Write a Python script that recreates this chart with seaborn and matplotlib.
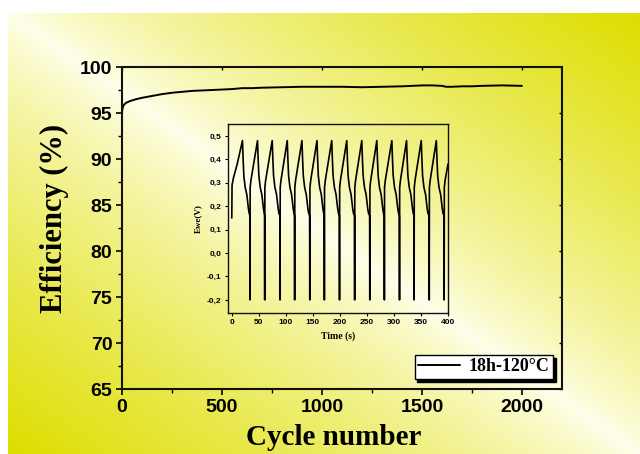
import numpy as np
import pandas as pd
import matplotlib
matplotlib.use("Agg")
import matplotlib.pyplot as plt
import seaborn as sns
from matplotlib.ticker import FuncFormatter, MultipleLocator, NullFormatter

# main curve: coulombic efficiency vs cycle number
cycles = [0, 1, 3, 5, 10, 20, 40, 70, 100, 150, 200, 250, 300, 350, 400, 450,
          500, 550, 600, 650, 700, 800, 900, 1000, 1100, 1200, 1300, 1400,
          1450, 1500, 1550, 1600, 1620, 1650, 1700, 1750, 1800, 1900, 2000]
efficiency = [94.8, 95.3, 95.5, 95.7, 95.9, 96.1, 96.3, 96.5, 96.65, 96.85, 97.05,
              97.2, 97.3, 97.4, 97.45, 97.5, 97.55, 97.6, 97.7, 97.7, 97.75, 97.8,
              97.85, 97.85, 97.85, 97.8, 97.85, 97.9, 97.95, 98.0, 98.0, 97.95,
              97.85, 97.85, 97.9, 97.9, 97.95, 98.0, 97.95]

# inset: Ewe vs time, galvanostatic cycling
peak_times = [19.8, 47.6, 74.8, 102.6, 129.8, 157.6, 184.9, 212.7, 240.5,
              268.3, 296.1, 323.3, 350.5, 378.4]
drop_times = [33.4, 60.6, 89.0, 116.0, 144.0, 171.0, 199.0, 227.0, 255.0,
              282.0, 310.0, 337.0, 365.0, 392.6]
v_peak = 0.48
v_bottom = -0.2
# shape of the discharge branch after each peak (seconds after peak, volts)
fall_dt = [1.2, 2.5, 5.0, 8.0, 11.0, 12.4]
fall_v = [0.40, 0.33, 0.28, 0.25, 0.19, 0.17]
# start of the record and its end
start_t = [0.0, 0.5, 3.0, 10.0]
start_v = [0.15, 0.29, 0.32, 0.38]
end_t = [400.0]
end_v = [0.38]

t_pts = list(start_t)
v_pts = list(start_v)
for i, p in enumerate(peak_times):
    t_pts.append(p)
    v_pts.append(v_peak)
    t_pts += [p + d for d in fall_dt]
    v_pts += fall_v
    d = drop_times[i]
    t_pts += [d, d + 0.3, d + 0.6, d + 2.0]
    v_pts += [0.16, v_bottom, 0.28, 0.31]
t_pts += end_t
v_pts += end_v

eff_df = pd.DataFrame({"cycle": cycles, "eff": efficiency})
volt_df = pd.DataFrame({"t": t_pts, "v": v_pts})

sns.set_style("ticks")
plt.rcParams["font.family"] = ["Liberation Sans", "DejaVu Sans"]
plt.rcParams["text.color"] = "black"
plt.rcParams["xtick.color"] = "black"
plt.rcParams["ytick.color"] = "black"
plt.rcParams["axes.labelcolor"] = "black"
serif = ["Liberation Serif", "DejaVu Serif"]

fig = plt.figure(figsize=(6.4, 4.54), dpi=100)
fig.patch.set_facecolor("white")

# gradient background (yellow corners top-right / bottom-left)
bg = fig.add_axes([8 / 640, 0, 632 / 640, 441 / 454], zorder=0)
H, W = 441, 632
u = np.linspace(0, 1, W)[None, :]
w = np.linspace(0, 1, H)[:, None]
g = np.clip(np.abs(u - w), 0, 1) ** 0.75
pale = np.array([255, 255, 238]) / 255
yel = np.array([222, 222, 0]) / 255
img = pale[None, None, :] * (1 - g[..., None]) + yel[None, None, :] * g[..., None]
bg.imshow(img, aspect="auto", interpolation="bilinear")
bg.axis("off")

ax = fig.add_axes([122 / 640, 1 - 389 / 454, 440 / 640, 322 / 454], zorder=1)
ax.patch.set_alpha(0)
sns.lineplot(data=eff_df, x="cycle", y="eff", ax=ax, color="black", lw=1.4,
             label="18h-120°C")
ax.set_xlim(0, 2200)
ax.set_ylim(65, 100)
ax.xaxis.set_major_locator(MultipleLocator(500))
ax.xaxis.set_minor_locator(MultipleLocator(250))
ax.yaxis.set_major_locator(MultipleLocator(5))
ax.yaxis.set_minor_locator(MultipleLocator(2.5))
ax.tick_params(which="major", direction="out", length=4, width=1.2,
               labelsize=14, pad=3)
ax.tick_params(which="minor", direction="out", length=3, width=1)
for lab in ax.get_xticklabels() + ax.get_yticklabels():
    lab.set_fontweight("bold")
for s in ax.spines.values():
    s.set_linewidth(1.5)
    s.set_color("#111111")

# small inward ticks on the top and right spines
top = ax.secondary_xaxis("top")
top.xaxis.set_major_locator(MultipleLocator(500))
top.xaxis.set_major_formatter(NullFormatter())
top.tick_params(direction="in", length=2.5, width=1)
top.spines["top"].set_visible(False)
right = ax.secondary_yaxis("right")
right.yaxis.set_major_locator(MultipleLocator(5))
right.yaxis.set_major_formatter(NullFormatter())
right.tick_params(direction="in", length=2.5, width=1)
right.spines["right"].set_visible(False)

ax.set_xlabel("Cycle number", fontsize=21, fontweight="bold", family=serif)
ax.set_ylabel("Efficiency (%)", fontsize=22, fontweight="bold", family=serif)
ax.xaxis.set_label_coords(0.48, -0.108)
ax.yaxis.set_label_coords(-0.12, 0.53)

leg = ax.legend(loc="lower right", bbox_to_anchor=(0.98, 0.031), frameon=True,
                fancybox=False, shadow={"color": "black", "alpha": 1},
                borderaxespad=0, handlelength=2.3, borderpad=0.2,
                handletextpad=0.5,
                prop={"family": serif, "weight": "bold", "size": 13})
leg.get_frame().set_edgecolor("black")
leg.get_frame().set_linewidth(1.0)
leg.get_frame().set_facecolor("white")
leg.get_frame().set_alpha(1)

ins = fig.add_axes([228 / 640, 1 - 313 / 454, 220 / 640, 189 / 454], zorder=2)
ins.patch.set_alpha(0)
sns.lineplot(data=volt_df, x="t", y="v", ax=ins, color="black", lw=1.2,
             sort=False, estimator=None)
ins.set_xlim(-7, 400)
ins.set_ylim(-0.256, 0.551)
ins.xaxis.set_major_locator(MultipleLocator(50))
ins.yaxis.set_major_locator(MultipleLocator(0.1))
ins.yaxis.set_major_formatter(
    FuncFormatter(lambda x, pos: f"{x:.1f}".replace(".", ",").replace("-0,0", "0,0")))
ins.tick_params(direction="out", length=2.5, width=0.8, labelsize=6, pad=2)
for lab in ins.get_xticklabels() + ins.get_yticklabels():
    lab.set_fontweight("bold")
for s in ins.spines.values():
    s.set_linewidth(1.0)
    s.set_color("#111111")
ins.set_xlabel("Time (s)", fontsize=7, fontweight="bold", family=serif)
ins.set_ylabel("Ewe(V)", fontsize=6.5, fontweight="bold", family=serif)

fig.savefig("out.png", dpi=100)
